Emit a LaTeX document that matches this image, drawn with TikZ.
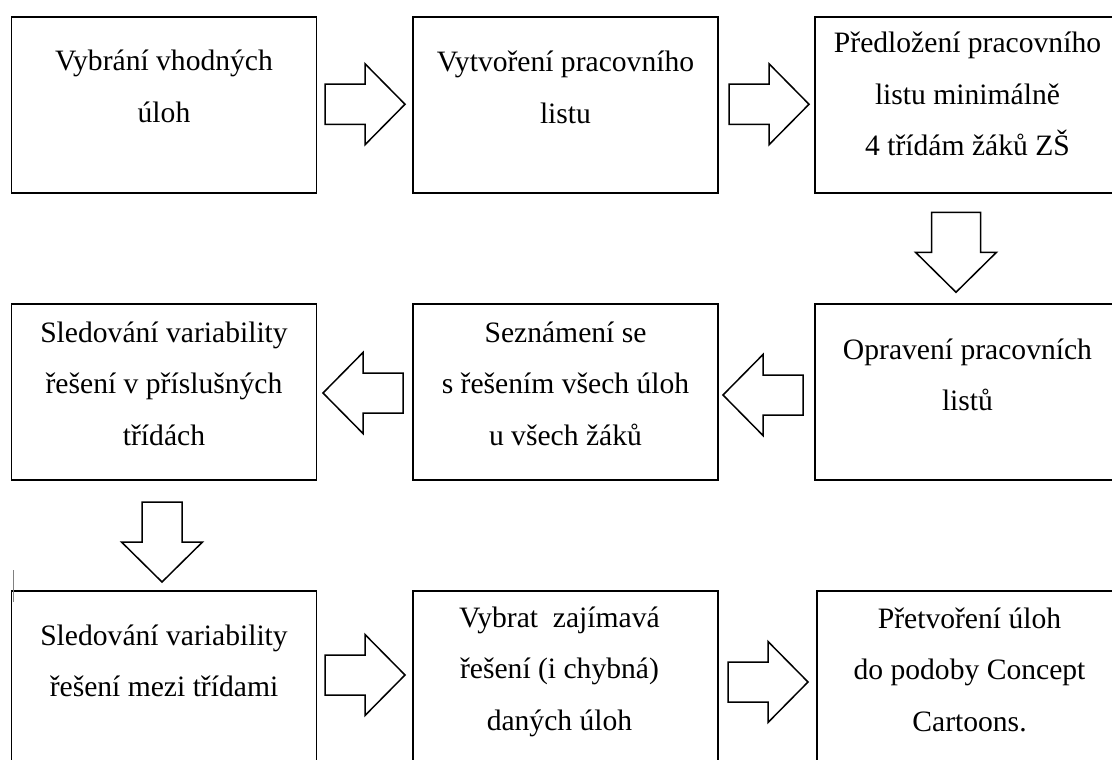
\documentclass[tikz,border=0pt]{standalone}
\usepackage{fontspec}
\setmainfont{Liberation Serif}
\usetikzlibrary{calc}
\newcommand{\fstrut}{\rule{0pt}{28pt}}
\tikzset{
  box/.style={draw=black, line width=1.9pt, minimum width=305pt, minimum height=176pt, inner sep=0pt, outer sep=0pt},
  txt/.style={align=center, inner sep=0pt, anchor=north, font=\fontsize{29.6}{51.5}\selectfont},
  arrowline/.style={draw=black, line width=1.5pt, fill=white, line join=miter},
  harrow/.pic={\path[arrowline] (0,-20) -- (40,-20) -- (40,-40.5) -- (80,0) -- (40,40.5) -- (40,20) -- (0,20) -- cycle;},
  varrow/.pic={\path[arrowline] (0,-24.5) -- (40,-24.5) -- (40,-40.5) -- (80,0) -- (40,40.5) -- (40,24.5) -- (0,24.5) -- cycle;}
}
\begin{document}
\begin{tikzpicture}[x=1pt,y=-1pt]
\useasboundingbox (0,0) rectangle (1112,760);
\begin{scope}
\clip (0,0) rectangle (1112,760);
\fill[white] (0,0) rectangle (1112,760);
% boxes
\node[box] (b1) at (164,105.25) {};
\node[box] (b2) at (565.5,105.25) {};
\node[box] (b3) at (967.5,105.25) {};
\node[box] (b4) at (164,392) {};
\node[box] (b5) at (565.5,392) {};
\node[box] (b6) at (967.5,392) {};
\node[box] (b7) at (164,679) {};
\node[box] (b8) at (565.5,679) {};
\node[box] (b9) at (969.5,679) {};
% texts
\node[txt] (t1) at ($(b1.north)+(0,25.5)$) {\fstrut Vybrání vhodných\\úloh};
\node[txt] (t2) at ($(b2.north)+(0,26.5)$) {\fstrut Vytvoření pracovního\\listu};
\node[txt] (t3) at ($(b3.north)+(0,7.5)$) {\fstrut Předložení pracovního\\listu minimálně\\4 třídám žáků ZŠ};
\node[txt] (t4) at ($(b4.north)+(0,10)$) {\fstrut Sledování variability\\řešení v příslušných\\třídách};
\node[txt] (t5) at ($(b5.north)+(0,10)$) {\fstrut Seznámení se\\s řešením všech úloh\\u všech žáků};
\node[txt] (t6) at ($(b6.north)+(0,27)$) {\fstrut Opravení pracovních\\listů};
\node[txt] (t7) at ($(b7.north)+(0,26)$) {\fstrut Sledování variability\\řešení mezi třídami};
\node[txt] (t8) at ($(b8.north)+(-6,8)$) {\fstrut Vybrat\ \ zajímavá\\řešení (i chybná)\\daných úloh};
\node[txt] (t9) at ($(b9.north)+(0,9)$) {\fstrut Přetvoření úloh\\do podoby Concept\\Cartoons.};
% block arrows
\pic at ($(b1.east)+(8.5,-1)$) {harrow};
\pic at ($(b2.east)+(11,-1)$) {harrow};
\pic[rotate=-90] at ($(b3.south)+(-11.5,19)$) {varrow};
\pic[rotate=180] at ($(b6.west)+(-12,3)$) {harrow};
\pic[rotate=180] at ($(b5.west)+(-10,1)$) {harrow};
\pic[rotate=-90] at ($(b4.south)+(-2,22)$) {harrow};
\pic at ($(b7.east)+(8.5,-4)$) {harrow};
\pic at ($(b8.east)+(10,3)$) {harrow};
% stray mark
\draw[gray, line width=0.8pt] ($(b7.north west)+(1.5,-21)$) -- ($(b7.north west)+(1.5,11)$);
\end{scope}
\end{tikzpicture}
\end{document}
